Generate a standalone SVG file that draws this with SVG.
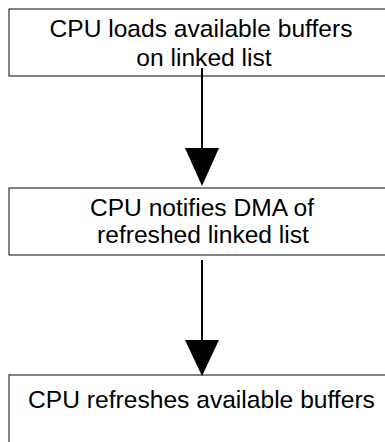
<svg xmlns="http://www.w3.org/2000/svg" width="385" height="442" viewBox="0 0 385 442">
<style>
.box{fill:#fff;stroke:#333;stroke-width:1.2}
.t{font-family:"Liberation Sans",Arial,sans-serif;font-size:24.6px;fill:#000;text-anchor:middle}
.c{stroke:#000;stroke-width:2;fill:none}
.h{fill:#000}
</style>
<rect width="385" height="442" fill="#fff"/>
<g id="n1">
<rect class="box" x="9" y="9" width="390" height="67"/>
<text class="t" x="201" y="37">CPU loads available buffers</text>
<text class="t" x="204" y="66">on linked list</text>
</g>
<g id="n2">
<rect class="box" x="9" y="188" width="390" height="67"/>
<text class="t" x="202" y="216">CPU notifies DMA of</text>
<text class="t" x="203" y="243">refreshed linked list</text>
</g>
<g id="n3">
<rect class="box" x="9" y="375" width="390" height="80"/>
<text class="t" x="201.5" y="408">CPU refreshes available buffers</text>
</g>
<g id="connectors">
<line class="c" x1="202" y1="68" x2="202" y2="150"/>
<polygon class="h" points="185,148 219,148 202,186"/>
<line class="c" x1="202" y1="260" x2="202" y2="342"/>
<polygon class="h" points="185,340 219,340 202,376"/>
</g>
</svg>
